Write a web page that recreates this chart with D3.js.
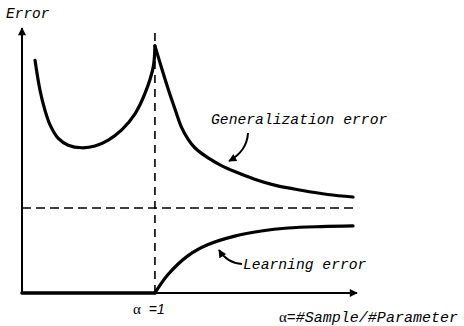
<!DOCTYPE html>
<html>
<head>
<meta charset="utf-8">
<script src="https://cdn.jsdelivr.net/npm/d3@7"></script>
<style>
  html, body { margin: 0; padding: 0; background: #fff; }
  svg { display: block; }
  .mono { font-family: "Liberation Mono", "DejaVu Sans Mono", monospace; font-style: italic; }
</style>
</head>
<body>
<svg id="chart" width="464" height="326"></svg>
<script>
// Generalization error, below the critical ratio (alpha < 1)
const alphaGenLeft = [0.098, 0.135, 0.173, 0.211, 0.273, 0.348, 0.449, 0.549, 0.649, 0.75, 0.85, 0.925, 0.987, 1.0];
const genErrLeft   = [2.74, 2.39, 2.15, 1.98, 1.82, 1.74, 1.71, 1.73, 1.80, 1.92, 2.11, 2.35, 2.66, 2.91];
// Generalization error, above the critical ratio (alpha > 1)
const alphaGenRight = [1.0, 1.05, 1.1, 1.15, 1.2, 1.25, 1.3, 1.4, 1.5, 1.6, 1.75, 1.9, 2.1, 2.3, 2.49];
const genErrRight   = [2.91, 2.65, 2.40, 2.17, 1.95, 1.81, 1.71, 1.59, 1.50, 1.43, 1.34, 1.27, 1.21, 1.16, 1.13];
// Learning error: zero up to alpha = 1, then rising toward the asymptote
const alphaLearnZero = [0, 1.0];
const learnErrZero   = [0, 0];
const alphaLearn = [1.0, 1.1, 1.25, 1.4, 1.6, 1.8, 2.0, 2.25, 2.49];
const learnErr   = [0, 0.22, 0.44, 0.57, 0.67, 0.73, 0.765, 0.782, 0.79];
// Common asymptote of both errors
const asymptote = 1.0;
const alphaCritical = 1.0;
const alphaDomain = [0, 2.52];
const errDomain = [0, 3.12];

const svg = d3.select("#chart");
const x = d3.scaleLinear().domain(alphaDomain).range([22, 357]);
const y = d3.scaleLinear().domain(errDomain).range([293, 28]);

const zip = (a, b) => a.map((v, i) => [v, b[i]]);
const line = d3.line().x(d => x(d[0])).y(d => y(d[1])).curve(d3.curveCatmullRom.alpha(0.5));

// arrowhead markers
const defs = svg.append("defs");
defs.append("marker")
  .attr("id", "head").attr("viewBox", "0 0 10 10")
  .attr("refX", 9).attr("refY", 5)
  .attr("markerWidth", 10).attr("markerHeight", 8)
  .attr("markerUnits", "userSpaceOnUse")
  .attr("orient", "auto")
  .append("path").attr("d", "M0,0 L10,5 L0,10 Z").attr("fill", "#000");
defs.append("marker")
  .attr("id", "smallhead").attr("viewBox", "0 0 10 10")
  .attr("refX", 9).attr("refY", 5)
  .attr("markerWidth", 9).attr("markerHeight", 8)
  .attr("markerUnits", "userSpaceOnUse")
  .attr("orient", "auto")
  .append("path").attr("d", "M0,0 L10,5 L0,10 Z").attr("fill", "#000");

// axes
svg.append("line")
  .attr("x1", x(0)).attr("y1", y(0)).attr("x2", x(0)).attr("y2", y(errDomain[1]))
  .attr("stroke", "#000").attr("stroke-width", 2).attr("marker-end", "url(#head)");
svg.append("line")
  .attr("x1", x(0)).attr("y1", y(0)).attr("x2", x(alphaDomain[1])).attr("y2", y(0))
  .attr("stroke", "#000").attr("stroke-width", 2).attr("marker-end", "url(#head)");

// dashed reference lines
svg.append("line")
  .attr("x1", x(alphaCritical)).attr("x2", x(alphaCritical))
  .attr("y1", y(0)).attr("y2", y(3.06))
  .attr("stroke", "#000").attr("stroke-width", 1.6).attr("stroke-dasharray", "8,6");
svg.append("line")
  .attr("x1", x(0)).attr("x2", x(2.49))
  .attr("y1", y(asymptote)).attr("y2", y(asymptote))
  .attr("stroke", "#000").attr("stroke-width", 1.6).attr("stroke-dasharray", "9,5");

// curves
const curves = svg.append("g").attr("fill", "none").attr("stroke", "#000")
  .attr("stroke-width", 3.2).attr("stroke-linecap", "round").attr("stroke-linejoin", "round");
curves.append("path").attr("d", line(zip(alphaGenLeft, genErrLeft)));
curves.append("path").attr("d", line(zip(alphaGenRight, genErrRight)));
curves.append("path").attr("d", line(zip(alphaLearnZero, learnErrZero))).attr("stroke-width", 3.6);
curves.append("path").attr("d", line(zip(alphaLearn, learnErr)));

// curve labels with pointer arrows
svg.append("text").attr("class", "mono").attr("x", 211).attr("y", 124)
  .attr("font-size", 14.7).text("Generalization error");
svg.append("path")
  .attr("d", "M248,133 Q247,151 229,161")
  .attr("fill", "none").attr("stroke", "#000").attr("stroke-width", 2)
  .attr("marker-end", "url(#smallhead)");

svg.append("text").attr("class", "mono").attr("x", 243).attr("y", 269)
  .attr("font-size", 14.7).text("Learning error");
svg.append("path")
  .attr("d", "M242,264 Q227,263 219,250")
  .attr("fill", "none").attr("stroke", "#000").attr("stroke-width", 2)
  .attr("marker-end", "url(#smallhead)");

// axis titles
svg.append("text").attr("class", "mono").attr("x", 6).attr("y", 18)
  .attr("font-size", 14.5).text("Error");

const crit = svg.append("text").attr("x", 133).attr("y", 314).attr("font-size", 15);
crit.append("tspan").attr("font-family", "Liberation Serif, serif").text("α");
crit.append("tspan").attr("dx", 8).attr("font-family", "Liberation Sans, sans-serif")
  .attr("font-style", "italic").attr("font-size", 14).text("=1");

const xt = svg.append("text").attr("x", 279).attr("y", 322).attr("font-size", 15);
xt.append("tspan").attr("font-family", "Liberation Serif, serif").text("α");
xt.append("tspan").attr("class", "mono").attr("font-size", 15).text("=#Sample/#Parameter");
</script>
</body>
</html>
